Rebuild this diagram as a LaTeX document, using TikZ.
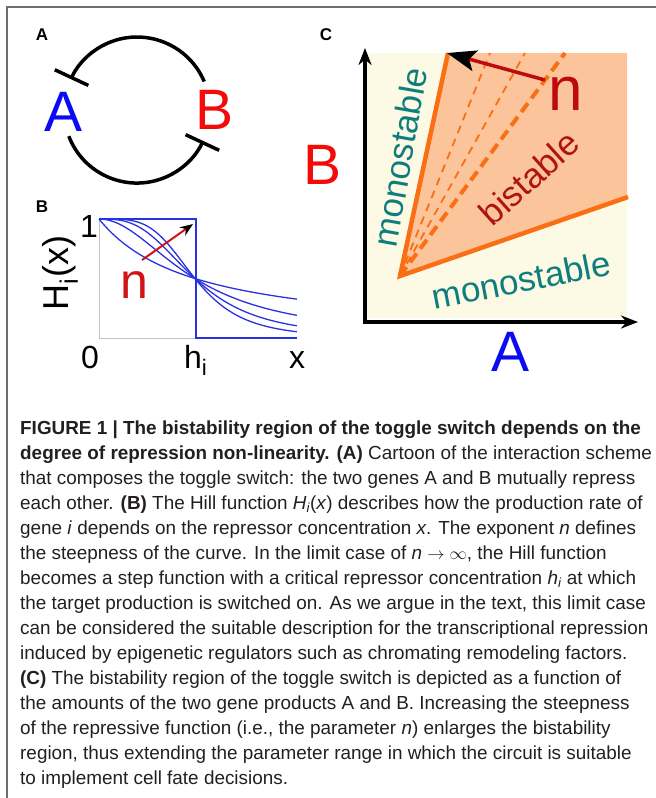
\documentclass[tikz,border=0pt]{standalone}
\usepackage{fontspec}
\setmainfont{Liberation Sans}
\newfontfamily\capfont{Liberation Sans}
\usetikzlibrary{arrows.meta}
\newcommand\fsz[1]{\fontsize{#1}{#1}\selectfont}
\definecolor{framec}{RGB}{110,110,110}
\definecolor{capc}{RGB}{35,31,32}
\definecolor{blueA}{RGB}{10,10,245}
\definecolor{redB}{RGB}{245,10,10}
\definecolor{hillblue}{RGB}{40,50,225}
\definecolor{nred}{RGB}{210,20,20}
\definecolor{dred}{RGB}{190,10,10}
\definecolor{teal1}{RGB}{15,125,125}
\definecolor{bired}{RGB}{175,20,20}
\definecolor{cream}{RGB}{252,249,228}
\definecolor{peach}{RGB}{251,196,155}
\definecolor{orng}{RGB}{250,110,20}
\definecolor{axgray}{RGB}{195,195,195}
\tikzset{
  panellab/.style={font=\bfseries\fsz{17}, inner sep=0pt},
  bigletter/.style={font=\fsz{57}, inner sep=0pt},
  rep/.style={line width=3.5pt, -{Bar[width=37pt,line width=3.5pt]}},
  hill/.style={hillblue, line width=1.3pt},
  ticklab/.style={font=\fsz{32}, inner sep=0pt, anchor=base},
  region/.style={font=\fsz{35}, inner sep=0pt},
  captxt/.style={font=\capfont\fsz{18.9}, text=capc, inner sep=0pt, anchor=base west},
}
\begin{document}
\begin{tikzpicture}[x=1pt,y=-1pt]
\useasboundingbox (0,0) rectangle (656,798);
% frame
\draw[framec, line width=1.5pt] (7,798) -- (7,7) -- (656,7);

% ---------- panel A ----------
\node[panellab] (labA) at (42,35) {A};
\node[bigletter, text=blueA] (gA) at (64,111.5) {A};
\node[bigletter, text=redB] (gB) at (214.5,110) {B};
\coordinate (bTop) at (204.2,81.5);
\coordinate (aBot) at (68.8,136.2);
\draw[rep] (bTop) arc[start angle=-23, end angle=-155, radius=73];
\draw[rep] (aBot) arc[start angle=159, end angle=25, radius=73];

% ---------- panel B ----------
\node[panellab] (labB) at (42,207) {B};
\draw[axgray, line width=1pt] (99,219) -- (99,338) -- (297,338);
\foreach \nn in {1,2,3,4}
  \draw[hill] plot[domain=0.001:2.0625, samples=100, smooth] ({99+96*\x},{338-119/(1+pow(\x,\nn))});
\draw[hill] (99,219) -- (196,219) -- (196,338) -- (297,338);
\coordinate (nb1) at (142,260);
\coordinate (nb2) at (193,224);
\draw[nred, line width=2pt, -{Stealth[length=13pt,width=10pt,color=black]}] (nb1) -- (nb2);
\node[font=\fsz{50}, text=nred, inner sep=0pt] (nB) at (134,285) {n};
\node[font=\fsz{36}, inner sep=0pt, rotate=90] (Hx) at (60,273) {H\textsubscript{i}(x)};
\node[ticklab] (t1) at (89,237) {1};
\node[ticklab] (t0) at (90,368) {0};
\node[ticklab, anchor=base west] (th) at (184,368) {h\textsubscript{i}};
\node[ticklab] (tx) at (297,368) {x};

% ---------- panel C ----------
\node[panellab] (labC) at (326,35) {C};
\fill[cream] (367,53) rectangle (627,318);
\fill[peach] (400,276) -- (448,53) -- (627,53) -- (627,197) -- cycle;
\coordinate (vtx) at (400,276);
\coordinate (topS) at (448,53);
\coordinate (rightS) at (628,197);
\coordinate (d1) at (490,53);
\coordinate (d2) at (525,53);
\coordinate (d3) at (565,53);
\draw[orng, line width=1.8pt, dash pattern=on 8pt off 6pt] (vtx) -- (d1);
\draw[orng, line width=1.8pt, dash pattern=on 8pt off 6pt] (vtx) -- (d2);
\draw[orng, line width=4pt, dash pattern=on 11pt off 6pt] (vtx) -- (d3);
\draw[orng, line width=4.5pt, line join=miter] (topS) -- (vtx) -- (rightS);
\coordinate (axTop) at (365,48);
\coordinate (axO) at (365,322);
\coordinate (axRight) at (638,322);
\draw[line width=4pt, line join=miter, {Stealth[length=17pt,width=13pt]}-{Stealth[length=17pt,width=13pt]}] (axTop) -- (axO) -- (axRight);
\coordinate (nc1) at (545,80);
\coordinate (nc2) at (447,53);
\draw[dred, line width=3.5pt, -{Stealth[length=29pt,width=21pt,inset=6pt,color=black]}] (nc1) -- (nc2);
\node[font=\fsz{62}, text=dred, inner sep=0pt] (nC) at (566,94) {n};
\node[region, text=teal1, rotate=80] (mono1) at (400,157) {monostable};
\node[region, text=teal1, rotate=11] (mono2) at (521,280) {monostable};
\node[region, text=bired, rotate=42] (bist) at (529,178) {bistable};
\node[bigletter, text=redB] (gBC) at (323,165) {B};
\node[bigletter, text=blueA] (gAC) at (511,352) {A};

% ---------- caption ----------
\node[captxt] (c1) at (20,434) {\textbf{FIGURE 1 | The bistability region of the toggle switch depends on the}};
\node[captxt] (c2) at (20,459) {\textbf{degree of repression non-linearity. (A)} Cartoon of the interaction scheme};
\node[captxt] (c3) at (20,484) {that composes the toggle switch: the two genes A and B mutually repress};
\node[captxt] (c4) at (20,509) {each other. \textbf{(B)} The Hill function \textit{H\textsubscript{i}}(\textit{x}) describes how the production rate of};
\node[captxt] (c5) at (20,534) {gene \textit{i} depends on the repressor concentration \textit{x}. The exponent \textit{n} defines};
\node[captxt] (c6) at (20,559) {the steepness of the curve. In the limit case of \textit{n} $\rightarrow\infty$, the Hill function};
\node[captxt] (c7) at (20,584) {becomes a step function with a critical repressor concentration \textit{h\textsubscript{i}} at which};
\node[captxt] (c8) at (20,609) {the target production is switched on. As we argue in the text, this limit case};
\node[captxt] (c9) at (20,634) {can be considered the suitable description for the transcriptional repression};
\node[captxt] (c10) at (20,659) {induced by epigenetic regulators such as chromating remodeling factors.};
\node[captxt] (c11) at (20,684) {\textbf{(C)} The bistability region of the toggle switch is depicted as a function of};
\node[captxt] (c12) at (20,709) {the amounts of the two gene products A and B. Increasing the steepness};
\node[captxt] (c13) at (20,734) {of the repressive function (i.e., the parameter \textit{n}) enlarges the bistability};
\node[captxt] (c14) at (20,759) {region, thus extending the parameter range in which the circuit is suitable};
\node[captxt] (c15) at (20,784) {to implement cell fate decisions.};
\end{tikzpicture}
\end{document}
